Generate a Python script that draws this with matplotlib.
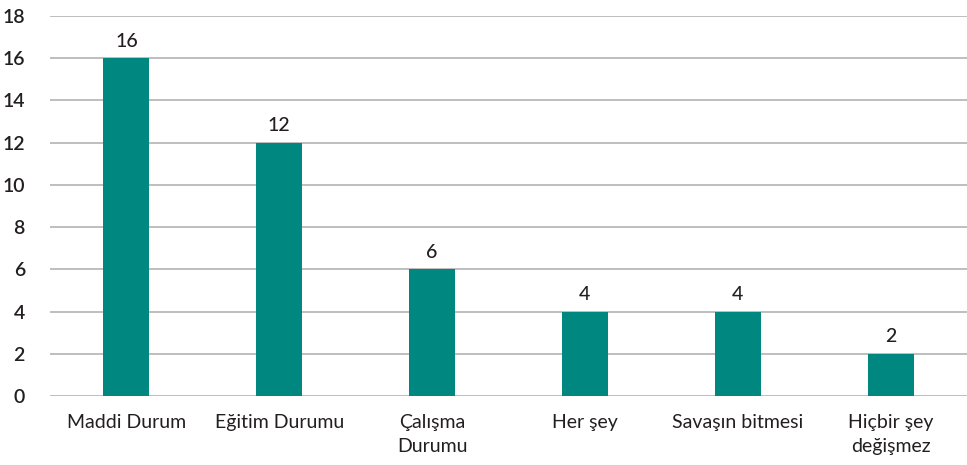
import matplotlib
matplotlib.use("Agg")
import matplotlib.pyplot as plt

categories = ["Maddi Durum", "Eğitim Durumu", "Çalışma\nDurumu", "Her şey", "Savaşın bitmesi", "Hiçbir şey\ndeğişmez"]
values = [16, 12, 6, 4, 4, 2]
y_ticks = [0, 2, 4, 6, 8, 10, 12, 14, 16, 18]

bar_color = "#00877F"
grid_color = "#b3b3b3"
text_color = "#231f20"

plt.rcParams["font.family"] = ["Lato", "DejaVu Sans"]

fig = plt.figure(figsize=(9.67, 4.65), dpi=100)
ax = fig.add_axes([0.0517, 0.1484, 0.9483, 0.8172])

x = list(range(len(categories)))
ax.bar(x, values, width=0.3, color=bar_color, zorder=3)

for xi, v in zip(x, values):
    ax.text(xi, v + 0.4, str(v), ha="center", va="bottom", fontsize=14, color=text_color, fontweight="medium")

ax.set_xlim(-0.5, len(categories) - 0.5)
ax.set_ylim(0, 18)
ax.set_yticks(y_ticks)
ax.set_yticklabels([str(t) for t in y_ticks], fontsize=14, color=text_color, fontweight="semibold")
ax.set_xticks(x)
ax.set_xticklabels(categories, fontsize=14, color=text_color, linespacing=1.5, va="top")
ax.tick_params(axis="both", length=0)
ax.tick_params(axis="y", pad=18)
ax.tick_params(axis="x", pad=13)

ax.yaxis.grid(True, color=grid_color, linewidth=1.2, zorder=0)
for spine in ax.spines.values():
    spine.set_visible(False)

fig.savefig("out.png", dpi=100)
